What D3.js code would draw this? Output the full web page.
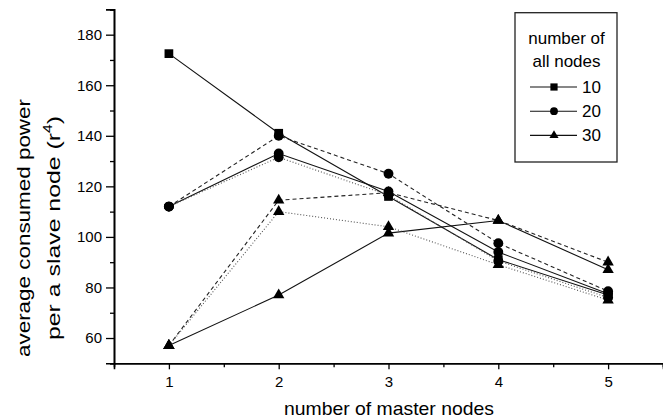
<!DOCTYPE html>
<html>
<head>
<meta charset="utf-8">
<script src="https://cdn.jsdelivr.net/npm/d3@7"></script>
<style>
  html, body { margin: 0; padding: 0; background: #fff; }
  svg { display: block; font-family: "Liberation Sans", Arial, Helvetica, sans-serif; }
</style>
</head>
<body>
<svg id="chart" width="663" height="420"></svg>
<script>
// ---- data ----
const masterNodes = [1, 2, 3, 4, 5];
const nodes10Solid  = [172.5, 141, 116, 91, 77];
const nodes20Solid  = [112, 133, 118, 94, 77.5];
const nodes20Dashed = [112, 140, 125, 97.5, 78.5];
const nodes20Dotted = [112, 131.5, 116.5, 90.5, 76];
const nodes30Solid  = [57, 77, 101.5, 106.5, 87];
const nodes30Dashed = [57, 114.5, 117.5, 106.5, 90];
const nodes30Dotted = [57, 110, 104, 89, 75];
const yMajorTicks = [60, 80, 100, 120, 140, 160, 180];
const yMinorTicks = [50, 70, 90, 110, 130, 150, 170, 190];
const xMajorTicks = [1, 2, 3, 4, 5];
const xMinorTicks = [1.5, 2.5, 3.5, 4.5, 5.5];
const legendLabels = ["10", "20", "30"];
const legendTitle = ["number of", "all nodes"];
const xTitle = "number of master nodes";
const yTitle1 = "average consumed power";
const yTitle2 = "per a slave node (r";

const series = [
  { values: nodes10Solid,  symbol: d3.symbolSquare,   style: "solid" },
  { values: nodes20Solid,  symbol: d3.symbolCircle,   style: "solid" },
  { values: nodes20Dashed, symbol: d3.symbolCircle,   style: "dashed" },
  { values: nodes20Dotted, symbol: d3.symbolCircle,   style: "dotted" },
  { values: nodes30Solid,  symbol: d3.symbolTriangle, style: "solid" },
  { values: nodes30Dashed, symbol: d3.symbolTriangle, style: "dashed" },
  { values: nodes30Dotted, symbol: d3.symbolTriangle, style: "dotted" }
];

const svg = d3.select("#chart");
const x = d3.scaleLinear().domain([0.5, 5.5]).range([114, 663]);
const y = d3.scaleLinear().domain([50, 190]).range([363.3, 9.4]);

const symSize = new Map([[d3.symbolSquare, 76], [d3.symbolCircle, 76], [d3.symbolTriangle, 56]]);
const legSize = new Map([[d3.symbolSquare, 52], [d3.symbolCircle, 48], [d3.symbolTriangle, 36]]);
const dash = { solid: null, dashed: "4,3", dotted: "1,2" };
const stroke = { solid: "#111", dashed: "#222", dotted: "#555" };

// ---- axes ----
const fmt = d3.format("d");
const yAxisMinor = d3.axisLeft(y).tickValues(yMinorTicks).tickSize(4).tickFormat("");
const yAxisMajor = d3.axisLeft(y).tickValues(yMajorTicks).tickSize(8).tickPadding(4).tickFormat(fmt);
const xAxisMinor = d3.axisBottom(x).tickValues(xMinorTicks).tickSize(4).tickFormat("");
const xAxisMajor = d3.axisBottom(x).tickValues(xMajorTicks).tickSize(6).tickPadding(7).tickFormat(fmt);

function styleAxis(g) {
  g.select(".domain").attr("stroke", "#000").attr("stroke-width", 1.6);
  g.selectAll(".tick line").attr("stroke", "#000").attr("stroke-width", 1.3);
  g.selectAll(".tick text").attr("fill", "#000").style("font-size", "15px")
    .style("font-family", "'Liberation Sans', Arial, sans-serif");
}
svg.append("g").attr("transform", `translate(${x(0.5)},0)`).call(yAxisMinor).call(styleAxis);
svg.append("g").attr("transform", `translate(${x(0.5)},0)`).call(yAxisMajor).call(styleAxis);
svg.append("g").attr("transform", `translate(0,${y(50)})`).call(xAxisMinor).call(styleAxis);
svg.append("g").attr("transform", `translate(0,${y(50)})`).call(xAxisMajor).call(styleAxis);

// ---- titles ----
svg.append("text").attr("x", 389).attr("y", 415).attr("text-anchor", "middle")
  .attr("textLength", 210).attr("lengthAdjust", "spacingAndGlyphs")
  .style("font-size", "19px").attr("fill", "#000").text(xTitle);

const yt = svg.append("g").attr("transform", "translate(0,228) rotate(-90)");
yt.append("text").attr("x", 0).attr("y", 29.5).attr("text-anchor", "middle")
  .attr("textLength", 258).attr("lengthAdjust", "spacingAndGlyphs")
  .style("font-size", "19px").attr("fill", "#000").text(yTitle1);
const t2 = yt.append("text").attr("x", 0).attr("y", 59.5).attr("text-anchor", "middle")
  .attr("textLength", 224).attr("lengthAdjust", "spacingAndGlyphs")
  .style("font-size", "19px").attr("fill", "#000");
t2.append("tspan").text(yTitle2);
t2.append("tspan").attr("dy", -8).style("font-size", "12px").text("4");
t2.append("tspan").attr("dy", 8).text(")");

// ---- lines ----
const line = d3.line().x((d, i) => x(masterNodes[i])).y(d => y(d));
const plot = svg.append("g");
series.forEach(s => {
  plot.append("path").datum(s.values).attr("d", line)
    .attr("fill", "none").attr("stroke", stroke[s.style]).attr("stroke-width", 1.1)
    .attr("stroke-dasharray", dash[s.style]);
});
series.forEach(s => {
  plot.selectAll(null).data(s.values).enter().append("path")
    .attr("transform", (d, i) => `translate(${x(masterNodes[i])},${y(d)})`)
    .attr("d", d3.symbol().type(s.symbol).size(symSize.get(s.symbol)))
    .attr("fill", "#000");
});

// ---- legend ----
const leg = svg.append("g");
leg.append("rect").attr("x", 515).attr("y", 12.7).attr("width", 102).attr("height", 149.3)
  .attr("fill", "#fff").attr("stroke", "#222").attr("stroke-width", 1.3);
legendTitle.forEach((t, i) => {
  leg.append("text").attr("x", 566.5).attr("y", 44 + i * 23).attr("text-anchor", "middle")
    .style("font-size", "17px").attr("fill", "#000").text(t);
});
const legSymbols = [d3.symbolSquare, d3.symbolCircle, d3.symbolTriangle];
legendLabels.forEach((lab, i) => {
  const cy = 87 + i * 24.2;
  leg.append("line").attr("x1", 530).attr("x2", 577).attr("y1", cy).attr("y2", cy)
    .attr("stroke", "#111").attr("stroke-width", 1.1);
  leg.append("path").attr("transform", `translate(554,${cy})`)
    .attr("d", d3.symbol().type(legSymbols[i]).size(legSize.get(legSymbols[i]))).attr("fill", "#000");
  leg.append("text").attr("x", 582).attr("y", cy + 5.8)
    .style("font-size", "17px").attr("fill", "#000").text(lab);
});
</script>
</body>
</html>
